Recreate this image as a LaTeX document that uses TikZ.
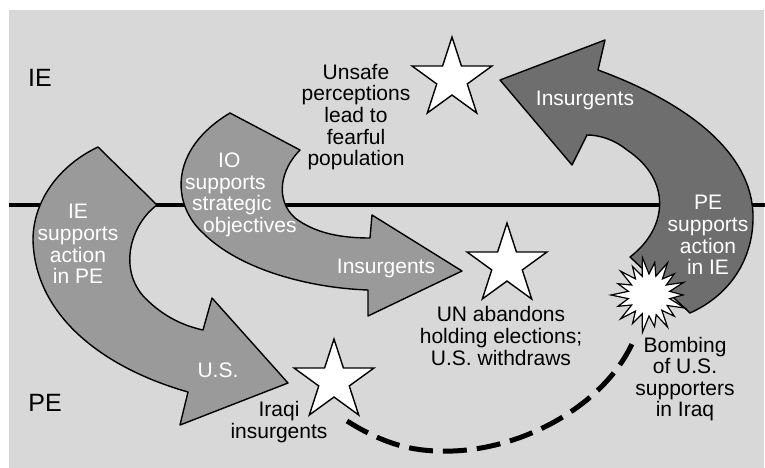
\documentclass[tikz,border=0pt]{standalone}
\usepackage{fontspec}
\setmainfont{Liberation Sans}
\usetikzlibrary{shapes.geometric}
\definecolor{bggray}{HTML}{D8D8D8}
\definecolor{midgray}{HTML}{9A9A9A}
\definecolor{darkgray2}{HTML}{6E6E6E}
\tikzset{
  arrowshape/.style={draw=black, line width=1.4pt, line join=round},
  starnode/.style={star, star points=5, star point ratio=2.618, minimum size=84pt, inner sep=0pt, outer sep=0pt, draw=black, fill=white, line width=1.4pt},
  lbl/.style={font=\fontsize{21}{21.6}\selectfont, align=center, inner sep=0pt, text=black},
  wlbl/.style={lbl, text=white},
  zone/.style={font=\fontsize{25}{25}\selectfont, inner sep=0pt},
  dashline/.style={line width=5pt, dash pattern=on 24pt off 10pt}
}
\begin{document}
\begin{tikzpicture}[x=1pt,y=-1pt]
\useasboundingbox (0,0) rectangle (765,468);
\fill[bggray] (9,10) rectangle (764,468);
\coordinate (hl) at (9,205);
\coordinate (hr) at (765,205);
\draw[line width=4.5pt] (hl) -- (hr);

% left arrow
\draw[arrowshape, fill=midgray] (98,147) -- (157,205)
  .. controls (130,225) and (118,270) .. (145,298)
  .. controls (165,318) and (185,326) .. (203,330)
  -- (212,298) -- (288,383) -- (180,425) -- (188,392)
  .. controls (110,370) and (35,320) .. (33,240)
  .. controls (33,200) and (60,165) .. (98,147) -- cycle;

% middle arrow
\draw[arrowshape, fill=midgray] (230,113) -- (300,150)
  .. controls (280,170) and (275,200) .. (295,218)
  .. controls (315,233) and (340,238) .. (370,238)
  -- (372,215) -- (462,271) -- (368,316) -- (368,290)
  .. controls (310,288) and (240,270) .. (203,233)
  .. controls (172,205) and (168,150) .. (230,113) -- cycle;

% right arrow
\draw[arrowshape, fill=darkgray2] (500,80) -- (605,40) -- (598,70)
  .. controls (680,100) and (755,150) .. (753,220)
  .. controls (752,260) and (730,295) .. (690,313)
  -- (630,257)
  .. controls (668,228) and (672,180) .. (627,150)
  .. controls (615,140) and (600,135) .. (587,135)
  -- (572,165) -- cycle;

% stars
\node[starnode] (s1) at (452,79) {};
\node[starnode] (s2) at (507,265) {};
\node[starnode] (s3) at (334,381) {};

% explosion
\coordinate (ex) at (649,295);
\draw[fill=white, line width=1.2pt, line join=miter] (ex)
  +(0:34) -- +(10:21) -- +(20:38) -- +(30:21) -- +(40:33) -- +(50:20)
  -- +(60:37) -- +(70:21) -- +(80:32) -- +(90:21) -- +(100:38) -- +(110:20)
  -- +(120:33) -- +(130:21) -- +(140:37) -- +(150:20) -- +(160:33) -- +(170:21)
  -- +(180:38) -- +(190:21) -- +(200:33) -- +(210:20) -- +(220:37) -- +(230:21)
  -- +(240:33) -- +(250:20) -- +(260:38) -- +(270:21) -- +(280:33) -- +(290:20)
  -- +(300:37) -- +(310:21) -- +(320:33) -- +(330:20) -- +(340:37) -- +(350:21) -- cycle;

% dashed connector
\coordinate (d1) at (347,421);
\coordinate (d2) at (635,337);
\draw[dashline] (d1) .. controls (390,448) and (420,452) .. (453,451)
  .. controls (530,448) and (610,400) .. (d2);

% zone labels
\node[zone] (ie) at (40,78) {IE};
\node[zone] (pe) at (45,403) {PE};

% labels
\node[lbl] (unsafe) at (356,117) {Unsafe\\perceptions\\lead to\\fearful\\population};
\node[wlbl] (iesup) at (78,244) {IE\\supports\\action\\in PE};
\node[wlbl, align=left, anchor=west] (io) at (185,195) {\hspace*{33pt}IO\\supports\\\hspace*{7pt}strategic\\\hspace*{18pt}objectives};
\node[wlbl] (ins1) at (386,268) {Insurgents};
\node[wlbl] (us) at (218,370) {U.S.};
\node[wlbl] (ins2) at (585,100) {Insurgents};
\node[wlbl] (pesup) at (708,235) {PE\\supports\\action\\in IE};
\node[lbl] (un) at (501,336) {UN abandons\\holding elections;\\U.S. withdraws};
\node[lbl] (iraqi) at (279,422) {Iraqi\\insurgents};
\node[lbl] (bomb) at (685,379) {Bombing\\of U.S.\\supporters\\in Iraq};
\end{tikzpicture}
\end{document}
